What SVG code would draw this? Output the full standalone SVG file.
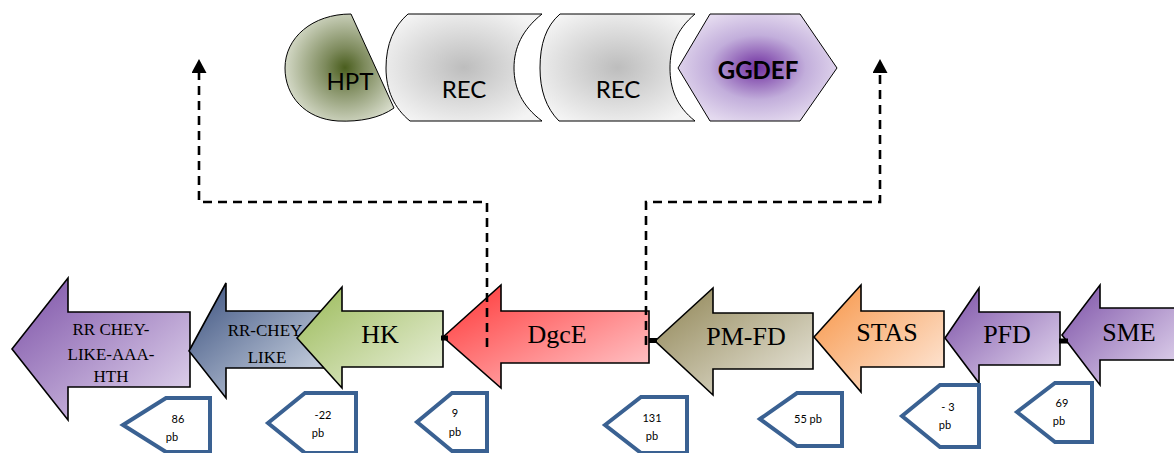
<svg xmlns="http://www.w3.org/2000/svg" width="1174" height="453" viewBox="0 0 1174 453">
<style>
.dom{stroke:#000;stroke-width:1;}
.dtxt{font-family:Lato,"Liberation Sans",sans-serif;font-size:24px;fill:#000;text-anchor:middle;}
.gene{stroke:#000;stroke-width:1.6;stroke-linejoin:miter;}
.gtxt{font-family:"Liberation Serif",serif;font-size:26px;fill:#000;text-anchor:middle;}
.stxt{font-family:"Liberation Serif",serif;font-size:17px;fill:#000;text-anchor:middle;}
.tag{fill:#fff;stroke:#3a6192;stroke-width:4;stroke-linejoin:miter;}
.ttxt{font-family:Lato,"Liberation Sans",sans-serif;font-size:11px;fill:#000;text-anchor:middle;}
.dash{fill:none;stroke:#000;stroke-width:2.6;stroke-dasharray:9 6;}
.junc{stroke:#000;stroke-width:5;}
</style>
<defs>
<radialGradient id="gHPT" cx="0.55" cy="0.5" r="0.6"><stop offset="0" stop-color="#4a5e1e"/><stop offset="0.3" stop-color="#7d8a5c"/><stop offset="1" stop-color="#dfe3d4"/></radialGradient>
<radialGradient id="gREC" cx="0.5" cy="0.5" r="0.6"><stop offset="0" stop-color="#bdbdbd"/><stop offset="1" stop-color="#f4f4f4"/></radialGradient>
<radialGradient id="gGG" cx="0.5" cy="0.5" r="0.55"><stop offset="0" stop-color="#7030a0"/><stop offset="0.55" stop-color="#c2aedb"/><stop offset="1" stop-color="#e4daef"/></radialGradient>
<linearGradient id="gPur" x1="0" y1="0" x2="1" y2="1"><stop offset="0" stop-color="#7b4fa6"/><stop offset="1" stop-color="#e6dcf1"/></linearGradient>
<linearGradient id="gNavy" x1="0" y1="0" x2="1" y2="1"><stop offset="0" stop-color="#3a507e"/><stop offset="1" stop-color="#dde4ee"/></linearGradient>
<linearGradient id="gGreen" x1="0" y1="0" x2="1" y2="1"><stop offset="0" stop-color="#9aba57"/><stop offset="1" stop-color="#edf2e1"/></linearGradient>
<linearGradient id="gRed" x1="0" y1="0" x2="1" y2="1"><stop offset="0" stop-color="#ff3434"/><stop offset="1" stop-color="#ffd2d5"/></linearGradient>
<linearGradient id="gOlive" x1="0" y1="0" x2="1" y2="1"><stop offset="0" stop-color="#8e8352"/><stop offset="1" stop-color="#edebe2"/></linearGradient>
<linearGradient id="gOrange" x1="0" y1="0" x2="1" y2="1"><stop offset="0" stop-color="#f79343"/><stop offset="1" stop-color="#feece0"/></linearGradient>
<marker id="ah" viewBox="0 0 14 15" refX="0" refY="7.5" markerWidth="14" markerHeight="15" markerUnits="userSpaceOnUse" orient="auto"><path d="M0,0 L14,7.5 L0,15 z" fill="#000"/></marker>
</defs>

<g id="domain-hpt">
<path class="dom" fill="url(#gHPT)" d="M351,14 L394,108 C380,118 360,122 338,121 C305,119 285,96 285,68 C285,38 312,14 351,14 Z"/>
<text class="dtxt" x="350" y="90">HPT</text>
</g>
<g id="domain-rec1">
<path class="dom" fill="url(#gREC)" d="M408,14 H542 C522,30 514,48 514,68 C514,88 522,106 542,121 H410 C394,108 386,90 386,68 C386,44 394,26 408,14 Z"/>
<text class="dtxt" x="464" y="98">REC</text>
</g>
<g id="domain-rec2">
<path class="dom" fill="url(#gREC)" d="M560,14 H695 C676,30 670,48 670,68 C670,88 676,106 695,121 H559 C546,108 540,90 540,68 C540,44 546,26 560,14 Z"/>
<text class="dtxt" x="618" y="98">REC</text>
</g>
<g id="domain-ggdef">
<path class="dom" fill="url(#gGG)" d="M710,14 H800 L837,68 L800,121 H710 L678,68 Z"/>
<text class="dtxt" x="758" y="79" font-weight="bold">GGDEF</text>
</g>

<g id="gene-rr-chey-like-aaa-hth">
<path class="gene" stroke="#404040" stroke-width="1.2" fill="url(#gPur)" d="M12,349 L68,278 V312 H190 V387 H68 V420 Z"/>
<text class="stxt" x="111" y="335">RR CHEY-</text>
<text class="stxt" x="111" y="360">LIKE-AAA-</text>
<text class="stxt" x="111" y="382">HTH</text>
</g>
<g id="gene-rr-chey-like">
<path class="gene" fill="url(#gNavy)" d="M189,351 L226,283 V311 H330 V368 H226 V398 Z"/>
<text class="stxt" x="265" y="336" font-size="18">RR-CHEY</text>
<text class="stxt" x="267" y="363" font-size="18">LIKE</text>
</g>
<g id="gene-hk">
<path class="gene" fill="url(#gGreen)" d="M297,338 L342,287 V311 H443 V367 H342 V388 Z"/>
<text class="gtxt" x="380" y="343">HK</text>
</g>
<g id="gene-dgce">
<path class="gene" stroke-width="2" fill="url(#gRed)" d="M443,337 L501,285 V311 H649 V363 H501 V388 Z"/>
<text class="gtxt" x="557" y="343">DgcE</text>
</g>
<g id="gene-pm-fd">
<path class="gene" stroke="#333" stroke-width="1.2" fill="url(#gOlive)" d="M655,341 L713,288 V313 H813 V369 H713 V395 Z"/>
<text class="gtxt" x="746" y="345">PM-FD</text>
</g>
<g id="gene-stas">
<path class="gene" stroke="#333" stroke-width="1.2" fill="url(#gOrange)" d="M814,337 L861,285 V311 H944 V367 H861 V392 Z"/>
<text class="gtxt" x="887" y="341">STAS</text>
</g>
<g id="gene-pfd">
<path class="gene" stroke="#333" stroke-width="1.2" fill="url(#gPur)" d="M945,338 L979,288 V312 H1060 V365 H979 V383 Z"/>
<text class="gtxt" x="1007" y="343">PFD</text>
</g>
<g id="gene-sme">
<path class="gene" stroke="#333" stroke-width="1.2" fill="url(#gPur)" d="M1062,335 L1100,285 V308 H1176 V360 H1100 V385 Z"/>
<text class="gtxt" x="1129" y="341">SME</text>
</g>

<g id="connectors">
<path class="dash" d="M487,347 V202 H199 V73" marker-end="url(#ah)"/>
<path class="dash" d="M646,345 V202 H880 V73" marker-end="url(#ah)"/>
<line class="junc" x1="441" y1="338" x2="448" y2="338"/>
<line class="junc" x1="649" y1="340.5" x2="657" y2="340.5"/>
<line class="junc" stroke-width="6" x1="1059" y1="341" x2="1068" y2="341"/>
</g>

<g id="tag-86">
<path class="tag" d="M123,425 L166,398 H210 V452 H166 Z"/>
<text class="ttxt" x="178" y="423">86</text>
<text class="ttxt" x="172" y="441">pb</text>
</g>
<g id="tag-22">
<path class="tag" d="M268,423 L305,393 H356 V453 H305 Z"/>
<text class="ttxt" x="323" y="419">-22</text>
<text class="ttxt" x="318" y="437">pb</text>
</g>
<g id="tag-9">
<path class="tag" d="M417,422 L452,393 H487 V451 H452 Z"/>
<text class="ttxt" x="455" y="417">9</text>
<text class="ttxt" x="455" y="436">pb</text>
</g>
<g id="tag-131">
<path class="tag" d="M605,425 L641,397 H687 V453 H641 Z"/>
<text class="ttxt" x="652" y="422">131</text>
<text class="ttxt" x="652" y="440">pb</text>
</g>
<g id="tag-55">
<path class="tag" d="M760,419 L797,393 H842 V446 H797 Z"/>
<text class="ttxt" x="808" y="423">55 pb</text>
</g>
<g id="tag-3">
<path class="tag" d="M902,416 L940,385 H979 V447 H940 Z"/>
<text class="ttxt" x="948" y="411">- 3</text>
<text class="ttxt" x="945" y="429">pb</text>
</g>
<g id="tag-69">
<path class="tag" d="M1017,412 L1055,383 H1092 V442 H1055 Z"/>
<text class="ttxt" x="1062" y="407">69</text>
<text class="ttxt" x="1059" y="425">pb</text>
</g>
</svg>
